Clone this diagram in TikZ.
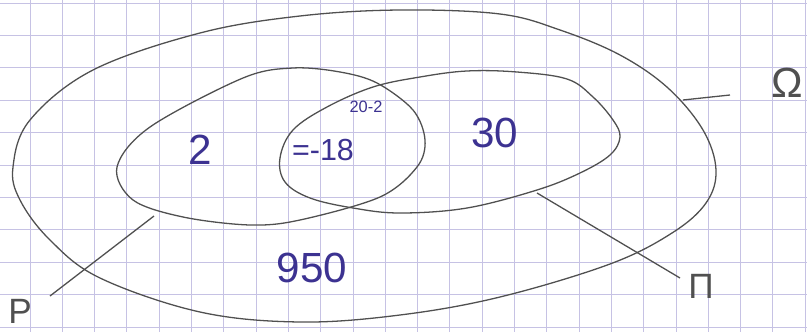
\documentclass[tikz,border=0pt]{standalone}
\usepackage{fontspec}
\setmainfont{Liberation Sans}
\definecolor{ink}{RGB}{60,50,145}
\definecolor{pencil}{RGB}{80,80,80}
\definecolor{gridline}{RGB}{198,194,228}
\begin{document}
\begin{tikzpicture}[x=0.03cm, y=-0.03cm,
  pencil/.style={draw=pencil, line width=1.1pt},
  ink/.style={text=ink, inner sep=0pt},
  setlbl/.style={text=pencil, inner sep=0pt, font=\fontsize{30}{30}\selectfont}]
\useasboundingbox (0,0) rectangle (807,332);
\fill[white] (0,0) rectangle (807,332);
% squared paper
\foreach \i in {0,...,24} \draw[gridline, line width=0.8pt] (30+32.3*\i,0) -- (30+32.3*\i,332);
\foreach \j in {0,...,10} \draw[gridline, line width=0.8pt] (0,3+32.4*\j) -- (807,3+32.4*\j);
% Omega
\draw[pencil] plot[smooth cycle, tension=0.6] coordinates {(13,167) (30,120) (93,70) (200,33) (300,16) (400,10) (500,14) (560,30) (620,55) (668,88) (703,130) (716,170) (706,203) (672,233) (610,264) (500,297) (400,315) (300,322) (200,312) (100,278) (50,240) (20,200)};
% P
\draw[pencil] plot[smooth cycle, tension=0.55] coordinates {(117,167) (150,127) (243,78) (293,68) (340,72) (377,83) (413,110) (425,140) (417,167) (380,197) (300,220) (250,225) (183,217) (133,200)};
% Pi
\draw[pencil] plot[smooth cycle, tension=0.6] coordinates {(280,158) (293,130) (327,107) (373,87) (420,77) (467,71) (517,72) (567,79) (593,97) (613,120) (620,137) (610,155) (580,173) (537,190) (467,208) (400,213) (353,208) (310,198) (285,182)};
% labels of the sets
\node[setlbl] (labP) at (20,311) {P};
\node[setlbl] (labPi) at (701,286) {Π};
\node[setlbl, font=\fontsize{36}{36}\selectfont] (labOm) at (787,83) {Ω};
\coordinate (tickP) at (154,216);
\coordinate (endP) at (50,296);
\coordinate (tickPi) at (537,193);
\coordinate (endPi) at (680,278);
\coordinate (tickOm) at (683,100);
\coordinate (endOm) at (730,95);
\draw[pencil] (tickP) -- (endP);
\draw[pencil] (tickPi) -- (endPi);
\draw[pencil] (tickOm) -- (endOm);
% counts
\node[ink, font=\fontsize{36}{36}\selectfont] (onlyP) at (200,150) {2};
\node[ink, font=\fontsize{26}{26}\selectfont] (both) at (323,150) {=-18};
\node[ink, font=\fontsize{14}{14}\selectfont] (calc) at (366,107) {20-2};
\node[ink, font=\fontsize{36}{36}\selectfont] (onlyPi) at (495,133) {30};
\node[ink, font=\fontsize{36}{36}\selectfont] (none) at (312,268) {950};
\end{tikzpicture}
\end{document}
